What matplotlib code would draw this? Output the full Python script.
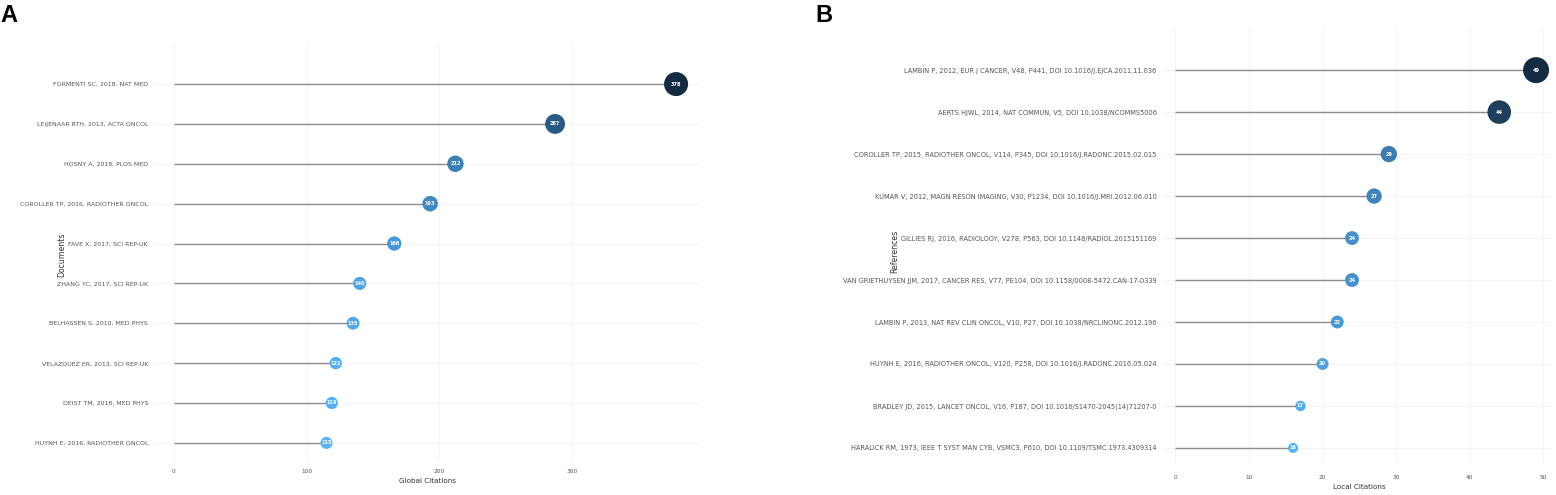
import matplotlib.pyplot as plt
import numpy as np
from matplotlib.colors import LinearSegmentedColormap

# panel A data
docs = ['FORMENTI SC, 2018, NAT MED', 'LEIJENAAR RTH, 2013, ACTA ONCOL', 'HOSNY A, 2018, PLOS MED',
        'COROLLER TP, 2016, RADIOTHER ONCOL', 'FAVE X, 2017, SCI REP-UK', 'ZHANG YC, 2017, SCI REP-UK',
        'BELHASSEN S, 2010, MED PHYS', 'VELAZQUEZ ER, 2013, SCI REP-UK', 'DEIST TM, 2018, MED PHYS',
        'HUYNH E, 2016, RADIOTHER ONCOL']
global_cit = [378, 287, 212, 193, 166, 140, 135, 122, 119, 115]
ticks_a = [0, 100, 200, 300]

# panel B data
refs = ['LAMBIN P, 2012, EUR J CANCER, V48, P441, DOI 10.1016/J.EJCA.2011.11.036',
        'AERTS HJWL, 2014, NAT COMMUN, V5, DOI 10.1038/NCOMMS5006',
        'COROLLER TP, 2015, RADIOTHER ONCOL, V114, P345, DOI 10.1016/J.RADONC.2015.02.015',
        'KUMAR V, 2012, MAGN RESON IMAGING, V30, P1234, DOI 10.1016/J.MRI.2012.06.010',
        'GILLIES RJ, 2016, RADIOLOGY, V278, P563, DOI 10.1148/RADIOL.2015151169',
        'VAN GRIETHUYSEN JJM, 2017, CANCER RES, V77, PE104, DOI 10.1158/0008-5472.CAN-17-0339',
        'LAMBIN P, 2013, NAT REV CLIN ONCOL, V10, P27, DOI 10.1038/NRCLINONC.2012.196',
        'HUYNH E, 2016, RADIOTHER ONCOL, V120, P258, DOI 10.1016/J.RADONC.2016.05.024',
        'BRADLEY JD, 2015, LANCET ONCOL, V16, P187, DOI 10.1016/S1470-2045(14)71207-0',
        'HARALICK RM, 1973, IEEE T SYST MAN CYB, VSMC3, P610, DOI 10.1109/TSMC.1973.4309314']
local_cit = [49, 44, 29, 27, 24, 24, 22, 20, 17, 16]
ticks_b = [0, 10, 20, 30, 40, 50]

cmap = LinearSegmentedColormap.from_list('gg', ['#56B1F7', '#132B43'])
FONT = 'DejaVu Sans'


def lollipop(ax, labels, vals, ticks, xlabel, xlim, dmin, dmax, lab_fs, lab_pad):
    vals = np.array(vals, dtype=float)
    n = len(vals)
    y = np.arange(n)[::-1]
    t = (vals - vals.min()) / (vals.max() - vals.min())
    diam = dmin + t * (dmax - dmin)          # px
    sizes = (diam * 0.72) ** 2

    # faint grid
    for yi in y:
        ax.axhline(yi, color='#f2f2f2', lw=0.6, zorder=0)
    for tk in ticks:
        ax.axvline(tk, color='#f2f2f2', lw=0.6, zorder=0)

    ax.hlines(y, 0, vals, color='#8c8c8c', lw=1.0, zorder=1)
    ax.scatter(vals, y, s=sizes, c=cmap(t), edgecolors='none', zorder=2)
    for v, yi in zip(vals, y):
        ax.text(v, yi, '%d' % v, color='white', fontsize=3.6, fontweight='bold',
                ha='center', va='center', family=FONT, zorder=3)

    ax.set_yticks(y)
    ax.set_yticklabels(labels, fontsize=lab_fs, color='#555555', family=FONT)
    ax.set_xticks(ticks)
    ax.set_xticklabels([str(k) for k in ticks], fontsize=4.2, color='#555555', family=FONT)
    ax.tick_params(axis='y', length=0, pad=lab_pad)
    ax.tick_params(axis='x', length=0, pad=6.5)
    ax.set_xlim(*xlim)
    ax.set_ylim(-0.43, n - 1 + 0.98)
    ax.set_xlabel(xlabel, fontsize=5.2, color='#333333', family=FONT, labelpad=3)
    for s in ax.spines.values():
        s.set_visible(False)
    return ax


fig = plt.figure(figsize=(15.56, 4.95), dpi=100)
axA = fig.add_axes([155 / 1556, 1 - 460 / 495, (700 - 155) / 1556, (460 - 45) / 495])
axB = fig.add_axes([1165 / 1556, 1 - 466 / 495, (1553 - 1165) / 1556, (466 - 29) / 495])

lollipop(axA, docs, global_cit, ticks_a, 'Global Citations', (-14, 396), 12, 24, 4.5, 5)
lollipop(axB, refs, local_cit, ticks_b, 'Local Citations', (-1.4, 51.3), 10, 26, 4.8, 6)

fig.text(62 / 1556, 1 - 255 / 495, 'Documents', rotation=90, fontsize=5.6, color='#333333',
         ha='center', va='center', family=FONT)
fig.text(895 / 1556, 1 - 251 / 495, 'References', rotation=90, fontsize=5.6, color='#333333',
         ha='center', va='center', family=FONT)

fig.text(0 / 1556, 1 - 15 / 495, 'A', fontsize=17, fontweight='bold', ha='left', va='center',
         family='Liberation Sans')
fig.text(815 / 1556, 1 - 15 / 495, 'B', fontsize=17, fontweight='bold', ha='left', va='center',
         family='Liberation Sans')

fig.savefig('out.png', dpi=100)
